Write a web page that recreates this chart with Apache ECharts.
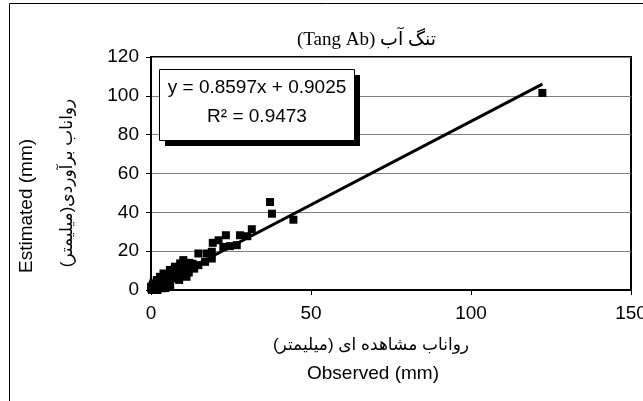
<!DOCTYPE html>
<html>
<head>
<meta charset="utf-8">
<script src="https://cdn.jsdelivr.net/npm/echarts@6/dist/echarts.min.js"></script>
<style>
  html, body { margin: 0; padding: 0; background: #fff; }
  #chart { width: 643px; height: 401px; }
</style>
</head>
<body>
<div id="chart"></div>
<script>
// observed vs estimated runoff (mm)
const obsX = [122.3, 37.2, 37.8, 44.5, 31.5, 30.1, 27.8, 23.4, 21.1, 19.3, 26.8, 24.7, 22.6, 19.0, 17.4, 14.8,
  19.0, 16.9, 14.8, 12.7, 10.1, 9.1, 11.1, 10.1, 7.5, 5.9, 7.0, 5.4, 3.9, 2.8, 1.8, 0.7, 3.3, 0.0,
  0.2, 0.5, 1.0, 1.2, 1.5, 2.0, 2.2, 2.5, 3.0, 3.5, 4.0, 4.2, 4.8, 5.0, 5.5, 6.0, 6.3, 6.8, 7.2, 7.8,
  8.2, 8.5, 8.8, 9.5, 10.5, 11.5, 12.0, 13.0, 13.5, 11.8, 0.3, 1.0, 2.0, 4.5, 6.0, 9.8, 0.1, 0.8, 1.6, 3.2]
const estY = [101.5, 45.3, 39.3, 36.2, 31.3, 27.7, 28.2, 28.2, 25.6, 24.3, 23.1, 22.6, 22.2, 19.7, 18.8, 18.8,
  16.2, 14.5, 12.8, 12.0, 15.4, 13.7, 6.8, 10.3, 12.0, 10.3, 6.0, 4.3, 8.5, 6.8, 5.1, 3.4, 0.9, 1.7,
  0.5, 2.5, 1.2, 3.0, 0.4, 2.2, 4.0, 1.5, 3.2, 5.0, 2.5, 6.0, 7.2, 3.5, 8.0, 6.5, 9.0, 7.8, 10.5, 8.5,
  11.2, 9.5, 5.2, 12.5, 13.0, 11.5, 14.0, 13.5, 11.0, 9.0, 0.0, 0.2, 0.0, 1.0, 2.0, 7.5, 1.0, 1.8, 2.2, 4.2]

// linear trendline end points
const trendX = [0, 122.3]
const trendY = [0.9, 106.0]

const yTicks = [0, 20, 40, 60, 80, 100, 120]
const xTicks = [0, 50, 100, 150]

const RLM = '\u200F'
const titleText = '(Tang Ab) تنگ آب'
const xNameFa = 'رواناب مشاهده ای (میلیمتر)' + RLM
const xNameEn = 'Observed (mm)'
const yNameFa = 'رواناب برآوردی(میلیمتر)' + RLM
const yNameEn = 'Estimated (mm)'
const eqLine1 = 'y = 0.8597x + 0.9025'
const eqLine2 = 'R² = 0.9473'

const sans = 'Liberation Sans, Arial, DejaVu Sans'
const serif = 'Liberation Serif, Times New Roman, DejaVu Sans'

const chart = echarts.init(document.getElementById('chart'), null, { renderer: 'canvas' })

chart.setOption({
  animation: false,
  backgroundColor: '#fff',
  title: {
    text: titleText, left: 292, top: 26,
    textStyle: { fontFamily: serif, fontSize: 19, fontWeight: 'normal', color: '#000' },
  },
  grid: {
    left: 151, top: 57, right: 12, bottom: 111, outerBoundsMode: 'none',
    show: true, borderColor: '#000', borderWidth: 2, backgroundColor: 'transparent',
  },
  xAxis: {
    type: 'value', min: xTicks[0], max: xTicks[xTicks.length - 1], interval: 50,
    axisLine: { show: true, lineStyle: { color: '#000', width: 2 } },
    axisTick: { show: true, length: 5, lineStyle: { color: '#000' } },
    axisLabel: { color: '#000', fontFamily: sans, fontSize: 19, margin: 14 },
    splitLine: { show: false },
  },
  yAxis: {
    type: 'value', min: yTicks[0], max: yTicks[yTicks.length - 1], interval: 20,
    axisLine: { show: true, lineStyle: { color: '#000', width: 2 } },
    axisTick: { show: true, length: 5, lineStyle: { color: '#000' } },
    axisLabel: { color: '#000', fontFamily: sans, fontSize: 19, margin: 12 },
    splitLine: { show: true, lineStyle: { color: '#808080', width: 1 } },
  },
  series: [
    {
      type: 'scatter', symbol: 'rect', symbolSize: 8,
      itemStyle: { color: '#000', opacity: 1 },
      data: obsX.map((x, i) => [x, estY[i]]),
      z: 3,
    },
    {
      type: 'line', symbol: 'none',
      lineStyle: { color: '#000', width: 3 },
      data: trendX.map((x, i) => [x, trendY[i]]),
      z: 4,
    },
  ],
  graphic: [
    // outer chart frame
    { type: 'rect', shape: { x: 9.5, y: 3.5, width: 700, height: 500 }, style: { fill: 'none', stroke: '#000', lineWidth: 1 }, z: 1 },
    // equation label with shadow
    { type: 'rect', shape: { x: 165, y: 75, width: 195, height: 71 }, style: { fill: '#000' }, z: 10 },
    { type: 'rect', shape: { x: 159.5, y: 69.5, width: 195, height: 71 }, style: { fill: '#fff', stroke: '#000', lineWidth: 1 }, z: 11 },
    { type: 'text', x: 257, y: 88, style: { text: eqLine1, font: '19px ' + sans, fill: '#000', textAlign: 'center', textVerticalAlign: 'middle' }, z: 12 },
    { type: 'text', x: 257, y: 117, style: { text: eqLine2, font: '19px ' + sans, fill: '#000', textAlign: 'center', textVerticalAlign: 'middle' }, z: 12 },
    // axis names
    { type: 'text', x: 371, y: 345, style: { text: xNameFa, font: '17px ' + sans, fill: '#000', textAlign: 'center', textVerticalAlign: 'middle' } },
    { type: 'text', x: 373, y: 374, style: { text: xNameEn, font: '19px ' + sans, fill: '#000', textAlign: 'center', textVerticalAlign: 'middle' } },
    { type: 'text', x: 27, y: 206, rotation: Math.PI / 2, style: { text: yNameEn, font: '19px ' + sans, fill: '#000', textAlign: 'center', textVerticalAlign: 'middle' } },
    { type: 'text', x: 67, y: 183, rotation: Math.PI / 2, style: { text: yNameFa, font: '17px ' + sans, fill: '#000', textAlign: 'center', textVerticalAlign: 'middle' } },
  ],
})
</script>
</body>
</html>
